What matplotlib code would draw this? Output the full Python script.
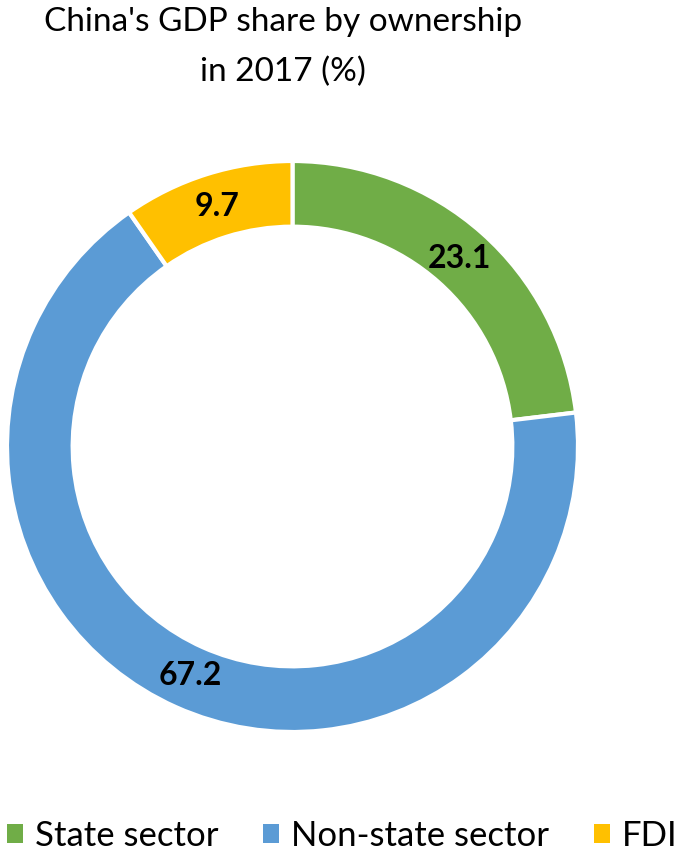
import matplotlib
matplotlib.use("Agg")
import matplotlib.pyplot as plt
from matplotlib.patches import Patch

# data
sectors = ["State sector", "Non-state sector", "FDI"]
shares = [23.1, 67.2, 9.7]
colors = ["#70AD47", "#5B9BD5", "#FFC000"]

plt.rcParams['font.family'] = ['Lato', 'DejaVu Sans']

W, H = 685, 858
fig = plt.figure(figsize=(W / 100, H / 100), dpi=100)

# donut: centre (292.5, 446.5) px, radius 285.5 px
cx, cy, r = 292.5, 446.5, 285.5
ax = fig.add_axes([(cx - r) / W, (H - cy - r) / H, 2 * r / W, 2 * r / H])
wedges, _, autotexts = ax.pie(shares, colors=colors, startangle=90, counterclock=False,
                              radius=1, autopct=lambda p: f"{p:.1f}", pctdistance=0.88,
                              wedgeprops=dict(width=0.23, edgecolor="white", linewidth=3))
for t in autotexts:
    t.set_fontsize(23)
    t.set_fontweight("bold")
    t.set_color("black")
ax.set_xlim(-1, 1)
ax.set_ylim(-1, 1)
ax.set_aspect("equal")
ax.axis("off")

fig.text(283 / W, 1 - 7 / H, "China's GDP share by ownership\nin 2017 (%)",
         ha="center", va="top", fontsize=24, linespacing=1.8)

handles = [Patch(facecolor=c, edgecolor="none") for c in colors]
fig.legend(handles, sectors, loc="center left", bbox_to_anchor=(7 / W, 1 - 836 / H),
           ncol=3, frameon=False, fontsize=25, borderpad=0, borderaxespad=0,
           handlelength=0.45, handleheight=0.45, handletextpad=0.35, columnspacing=1.3)

plt.savefig("out.png", dpi=100)
